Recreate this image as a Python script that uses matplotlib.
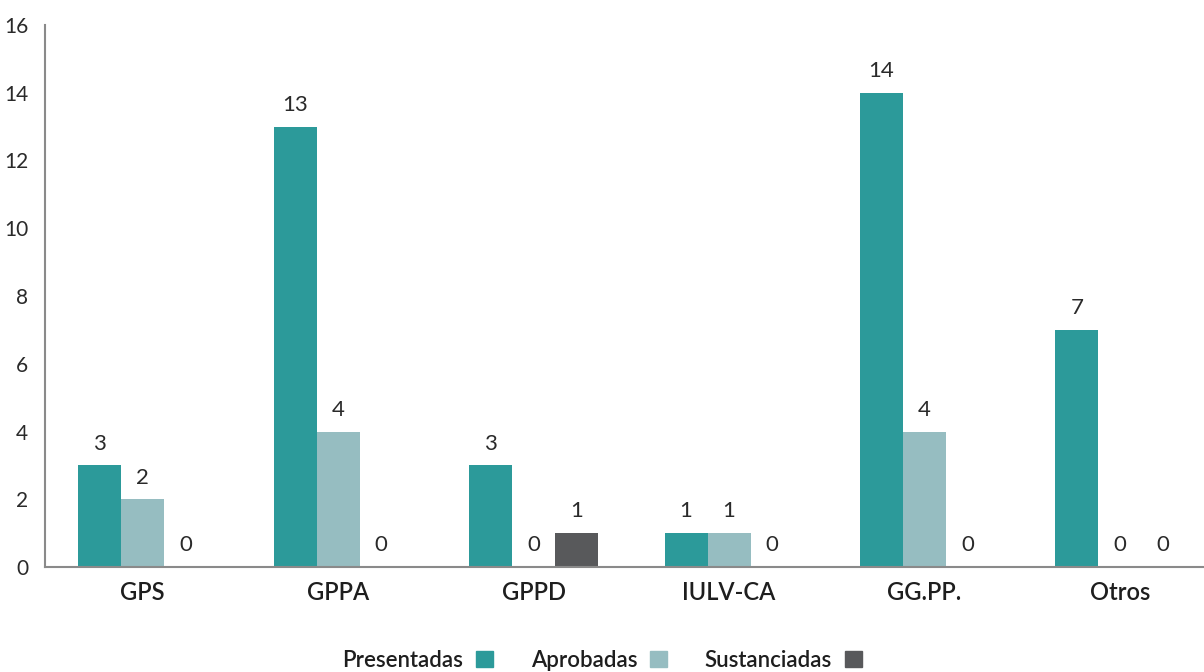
import matplotlib.pyplot as plt
import matplotlib.patches as mpatches
import numpy as np

plt.rcParams['font.family'] = ['Lato', 'DejaVu Sans']

# data
groups = ['GPS', 'GPPA', 'GPPD', 'IULV-CA', 'GG.PP.', 'Otros']
presentadas = [3, 13, 3, 1, 14, 7]
aprobadas = [2, 4, 0, 1, 4, 0]
sustanciadas = [0, 0, 1, 0, 0, 0]
series_names = ['Presentadas', 'Aprobadas', 'Sustanciadas']
colors = ['#2c9a9a', '#96bdc1', '#58595b']

fig = plt.figure(figsize=(12.04, 6.72), dpi=100)
ax = fig.add_axes([0.0374, 0.156, 0.9626, 0.807])

x = np.arange(len(groups))
w = 0.22
for i, (vals, col) in enumerate(zip([presentadas, aprobadas, sustanciadas], colors)):
    pos = x + (i - 1) * w
    ax.bar(pos, vals, width=w, color=col)
    for p, v in zip(pos, vals):
        ax.text(p, v + 0.35, str(v), ha='center', va='bottom',
                fontsize=16, color='#2a2a2a')

ax.set_xlim(-0.5, 5.43)
ax.set_ylim(0, 16)
ax.set_yticks(range(0, 17, 2))
ax.set_xticks(x)
ax.set_xticklabels(groups, fontsize=17, color='#1e1e1e', fontweight='semibold')
ax.tick_params(axis='y', length=0, labelsize=15, labelcolor='#2a2a2a', pad=12)
ax.tick_params(axis='x', length=0, pad=10)
for s in ['top', 'right']:
    ax.spines[s].set_visible(False)
for s in ['left', 'bottom']:
    ax.spines[s].set_color('#8a8a8a')
    ax.spines[s].set_linewidth(1.5)

handles = [mpatches.Patch(color=c) for c in colors]
fig.legend(handles, series_names, loc='lower center', bbox_to_anchor=(0.5, -0.028),
           ncol=3, frameon=False, markerfirst=False,
           prop={'size': 16, 'weight': 'semibold'},
           handlelength=0.75, handleheight=0.75, columnspacing=1.7, handletextpad=0.6,
           labelcolor='#1e1e1e')

fig.savefig('out.png', dpi=100)
